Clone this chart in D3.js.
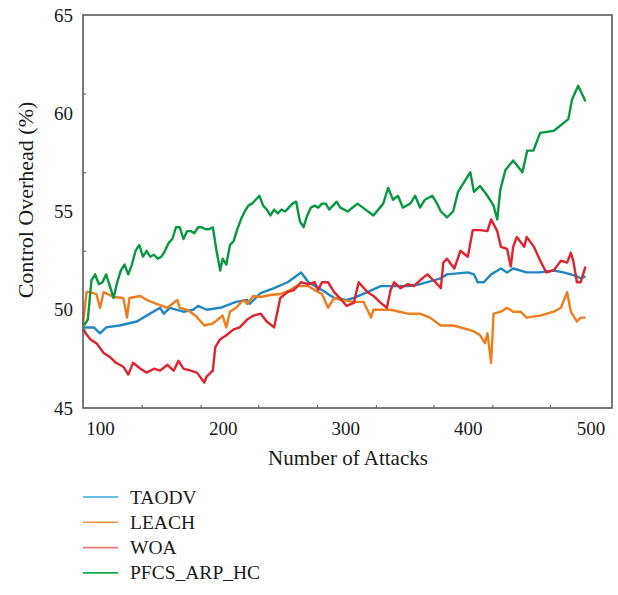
<!DOCTYPE html>
<html>
<head>
<meta charset="utf-8">
<script src="https://cdn.jsdelivr.net/npm/d3@7"></script>
<style>
  body { margin: 0; background: #fff; }
  svg text { font-family: "Liberation Serif", "DejaVu Serif", serif; fill: #1a1a1a; }
</style>
</head>
<body>
<div id="chart"></div>
<script>
var seriesNames = ["TAODV", "LEACH", "WOA", "PFCS_ARP_HC"];
var lineColors = ["#1f87c3", "#ef7d1c", "#e2222c", "#07993f"];
var legendColors = ["#35a8de", "#f3913f", "#f07a78", "#14ad4e"];

var xTicks = [100, 200, 300, 400, 500];
var xMinor = [134, 182, 229, 277, 325, 372, 420, 467];
var yTicks = [45, 50, 55, 60, 65];
var yMinor = [49, 53, 57, 61];

var taodvX = [86, 95, 100, 105, 116, 130, 138, 149, 152, 157, 168, 176, 180, 187, 198, 211, 220, 222, 231, 242, 253, 264, 270, 281, 291, 301, 307, 318, 329, 351, 361, 378, 383, 400, 405, 408, 413, 419, 427, 432, 437, 448, 459, 470, 478, 484, 489, 492, 496];
var taodvY = [49.1, 49.1, 48.8, 49.1, 49.2, 49.4, 49.7, 50.1, 49.8, 50.1, 49.9, 50.0, 50.2, 50.0, 50.1, 50.4, 50.5, 50.3, 50.85, 51.1, 51.4, 51.9, 51.4, 51.0, 50.6, 50.5, 50.6, 50.9, 51.2, 51.2, 51.3, 51.6, 51.8, 51.9, 51.8, 51.4, 51.4, 51.8, 52.1, 51.9, 52.1, 51.9, 51.9, 52.0, 51.9, 51.8, 51.7, 51.6, 51.7];

var leachX = [86, 89, 92, 97, 100, 103, 111, 119, 122, 124, 133, 138, 146, 155, 163, 165, 171, 178, 185, 192, 200, 203, 206, 211, 217, 220, 225, 231, 239, 247, 255, 260, 270, 275, 281, 286, 291, 296, 307, 315, 321, 323, 337, 351, 361, 369, 378, 388, 400, 405, 410, 414, 416, 419, 420, 421, 427, 432, 437, 443, 448, 459, 470, 476, 481, 484, 489, 492, 496];
var leachY = [49.2, 50.9, 50.9, 50.8, 50.1, 50.9, 50.65, 50.6, 49.6, 50.6, 50.7, 50.5, 50.3, 50.1, 50.5, 50.1, 50.0, 49.7, 49.2, 49.3, 49.7, 49.1, 49.9, 50.1, 50.5, 50.3, 50.7, 50.65, 50.75, 50.8, 51.0, 51.2, 51.2, 51.0, 50.8, 50.1, 50.6, 50.5, 50.4, 50.4, 49.6, 50.0, 50.0, 49.8, 49.8, 49.6, 49.2, 49.2, 49.0, 48.9, 48.7, 48.3, 48.8, 47.3, 48.5, 49.8, 49.9, 50.1, 49.9, 49.9, 49.6, 49.7, 49.9, 50.1, 50.9, 49.9, 49.4, 49.6, 49.6];

var woaX = [86, 92, 97, 103, 108, 113, 119, 123, 127, 133, 138, 144, 149, 155, 160, 164, 168, 174, 179, 185, 187, 192, 194, 198, 203, 209, 214, 220, 225, 231, 236, 242, 247, 253, 258, 264, 270, 275, 278, 281, 286, 291, 297, 301, 307, 311, 318, 323, 329, 334, 337, 340, 345, 351, 356, 361, 367, 372, 378, 380, 383, 389, 394, 400, 404, 410, 416, 419, 424, 427, 432, 435, 437, 440, 446, 448, 454, 459, 464, 470, 476, 481, 484, 486, 489, 492, 496];
var woaY = [49.0, 48.5, 48.3, 47.8, 47.6, 47.3, 47.1, 46.7, 47.3, 47.0, 46.8, 47.0, 46.9, 47.2, 46.9, 47.4, 47.0, 46.9, 46.8, 46.3, 46.6, 46.9, 48.1, 48.5, 48.7, 49.0, 49.1, 49.5, 49.7, 49.8, 49.4, 49.1, 50.6, 50.9, 51.0, 51.4, 51.3, 51.4, 51.0, 51.4, 51.4, 50.9, 50.5, 50.2, 50.35, 51.4, 50.9, 50.7, 50.35, 50.1, 51.0, 51.4, 51.1, 51.3, 51.2, 51.5, 51.8, 51.5, 51.1, 52.4, 52.6, 52.1, 53.0, 52.7, 54.05, 54.05, 54.0, 54.6, 54.0, 53.2, 53.1, 52.2, 53.2, 53.7, 53.2, 53.7, 53.2, 52.5, 51.9, 52.0, 52.5, 52.4, 52.9, 52.5, 51.4, 51.4, 52.2];

var pfcsX = [87, 90, 93, 96, 99, 102, 105, 108, 111, 114, 117, 120, 123, 126, 129, 132, 135, 138, 141, 144, 147, 150, 153, 156, 159, 162, 165, 168, 171, 174, 177, 180, 183, 186, 189, 192, 195, 198, 200, 203, 206, 209, 212, 215, 218, 221, 224, 227, 230, 233, 236, 239, 242, 245, 248, 251, 254, 257, 260, 263, 266, 269, 272, 275, 278, 281, 284, 287, 290, 293, 296, 302, 310, 323, 331, 335, 339, 343, 347, 353, 357, 361, 365, 371, 375, 378, 383, 388, 392, 398, 402, 405, 410, 416, 421, 424, 426.5, 430.6, 437, 444.5, 448.5, 453.5, 459, 470, 474, 478, 482, 485, 490, 493, 496];
var pfcsY = [49.2, 49.5, 51.5, 51.8, 51.3, 51.4, 51.8, 51.2, 50.6, 51.4, 52.0, 52.3, 51.8, 52.3, 53.0, 53.3, 52.7, 53.0, 52.7, 52.8, 52.6, 52.7, 53.0, 53.4, 53.6, 54.2, 54.2, 53.6, 54.0, 54.0, 53.9, 54.2, 54.2, 54.1, 54.1, 54.2, 53.0, 52.0, 52.6, 52.3, 53.3, 53.5, 54.1, 54.6, 55.0, 55.3, 55.4, 55.6, 55.8, 55.3, 55.1, 54.8, 55.1, 54.9, 55.1, 55.0, 55.2, 55.4, 55.5, 54.5, 54.2, 54.8, 55.2, 55.3, 55.2, 55.4, 55.4, 55.1, 55.3, 55.5, 55.2, 55.0, 55.4, 54.8, 55.4, 56.2, 55.6, 55.8, 55.2, 55.4, 55.8, 55.2, 55.6, 55.8, 55.4, 55.0, 54.7, 55.0, 56.0, 56.6, 57.0, 56.0, 56.3, 55.8, 55.3, 54.6, 56.1, 57.1, 57.6, 57.0, 58.1, 58.1, 59.0, 59.1, 59.3, 59.5, 59.7, 60.7, 61.4, 61.0, 60.6];

var seriesX = [taodvX, leachX, woaX, pfcsX];
var seriesY = [taodvY, leachY, woaY, pfcsY];

var width = 618, height = 595;
var plotL = 83, plotR = 612, plotT = 15, plotB = 408;

var svg = d3.select("#chart").append("svg")
    .attr("width", width)
    .attr("height", height);

var x = d3.scaleLinear()
    .domain([86.1, 517.6])
    .range([plotL, plotR]);

var y = d3.scaleLinear()
    .domain([45, 65])
    .range([plotB, plotT]);

// minor ticks pointing into the plot
svg.append("g")
    .attr("transform", "translate(0," + plotB + ")")
    .call(d3.axisTop(x).tickValues(xMinor).tickSize(3).tickFormat(""))
    .call(function(g) { g.select(".domain").remove(); })
    .selectAll("line").attr("stroke", "#555");

svg.append("g")
    .attr("transform", "translate(" + plotL + ",0)")
    .call(d3.axisRight(y).tickValues(yMinor).tickSize(3).tickFormat(""))
    .call(function(g) { g.select(".domain").remove(); })
    .selectAll("line").attr("stroke", "#555");

// tick labels
svg.append("g")
    .attr("transform", "translate(0," + plotB + ")")
    .call(d3.axisBottom(x).tickValues(xTicks).tickSize(0).tickPadding(14))
    .call(function(g) {
      g.select(".domain").remove();
      g.selectAll("text").style("font-size", "19px").style("font-family", "Liberation Serif").attr("fill", "#1a1a1a");
    });

svg.append("g")
    .attr("transform", "translate(" + plotL + ",0)")
    .call(d3.axisLeft(y).tickValues(yTicks).tickSize(0).tickPadding(10))
    .call(function(g) {
      g.select(".domain").remove();
      g.selectAll("text").style("font-size", "19px").style("font-family", "Liberation Serif").attr("fill", "#1a1a1a");
    });

var line = d3.line()
    .x(function(d) { return x(d[0]); })
    .y(function(d) { return y(d[1]); });

seriesNames.forEach(function(name, i) {
  var pts = seriesX[i].map(function(v, j) { return [v, seriesY[i][j]]; });
  svg.append("path")
      .datum(pts)
      .attr("fill", "none")
      .attr("stroke", lineColors[i])
      .attr("stroke-width", 2.4)
      .attr("stroke-linejoin", "round")
      .attr("d", line);
});

// frame
svg.append("rect")
    .attr("x", plotL)
    .attr("y", plotT)
    .attr("width", plotR - plotL)
    .attr("height", plotB - plotT)
    .attr("fill", "none")
    .attr("stroke", "#5a5a5a")
    .attr("stroke-width", 1.6);

svg.append("text")
    .attr("x", 348)
    .attr("y", 465)
    .attr("text-anchor", "middle")
    .style("font-size", "21px")
    .text("Number of Attacks");

svg.append("text")
    .attr("transform", "translate(33,200) rotate(-90)")
    .attr("text-anchor", "middle")
    .style("font-size", "22px")
    .text("Control Overhead (%)");

var legend = svg.append("g").attr("transform", "translate(83,497)");
seriesNames.forEach(function(name, i) {
  var g = legend.append("g").attr("transform", "translate(0," + (i * 25.3) + ")");
  g.append("line")
      .attr("x1", 0).attr("x2", 35)
      .attr("y1", 0).attr("y2", 0)
      .attr("stroke", legendColors[i])
      .attr("stroke-width", 1.6);
  g.append("text")
      .attr("x", 47)
      .attr("y", 6.5)
      .style("font-size", "19.5px")
      .text(name);
});
</script>
</body>
</html>
